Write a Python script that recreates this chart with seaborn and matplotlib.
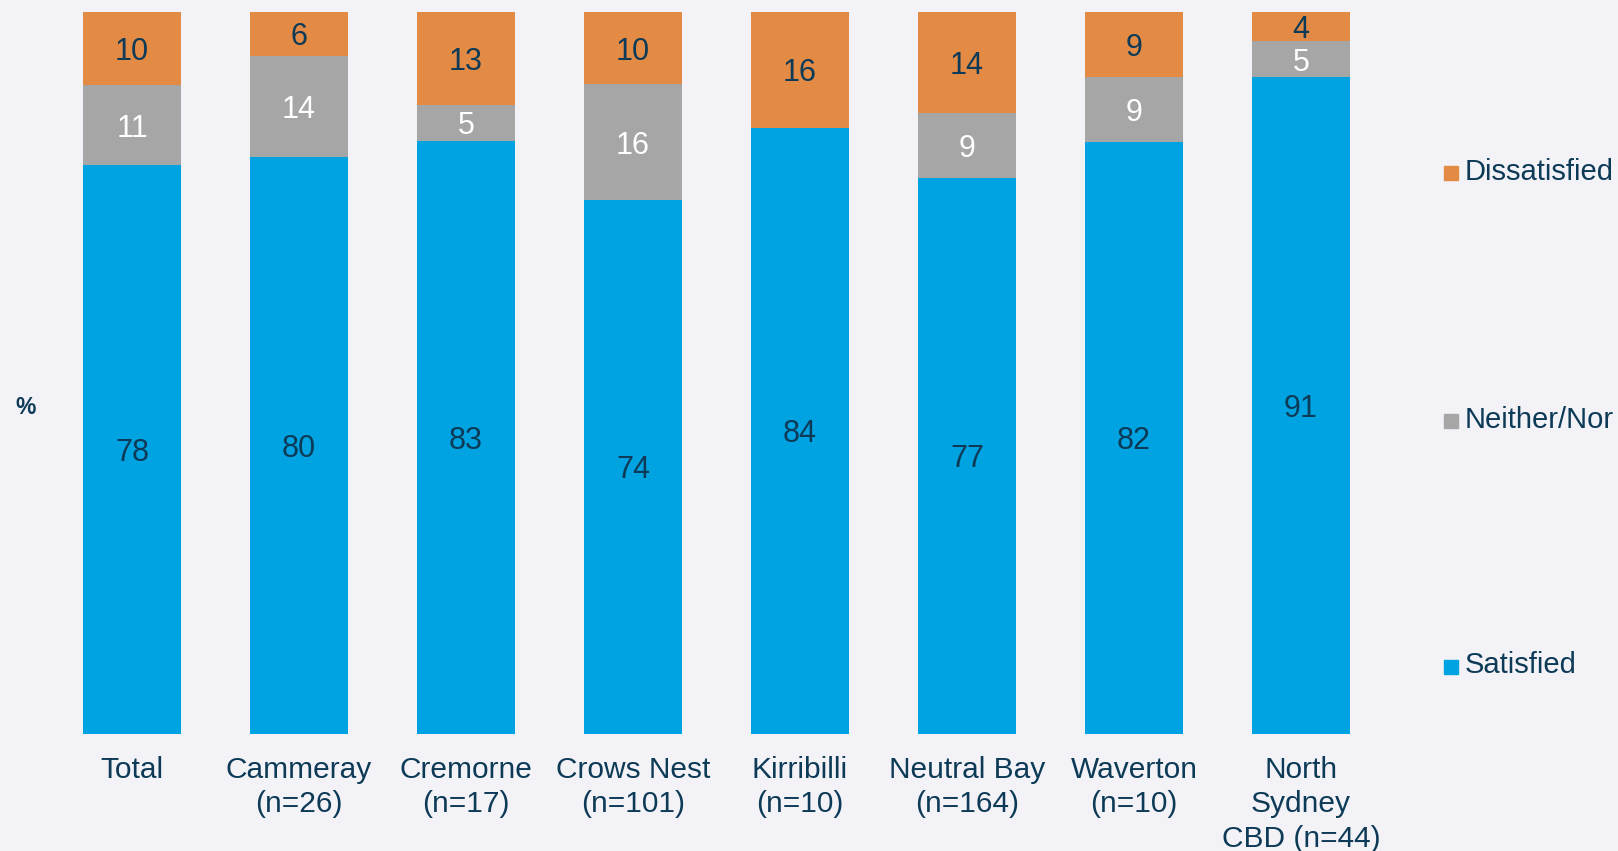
import matplotlib
matplotlib.use("Agg")
import matplotlib.pyplot as plt
import seaborn as sns
import numpy as np
import pandas as pd

# data
areas = ["Total", "Cammeray\n(n=26)", "Cremorne\n(n=17)", "Crows Nest\n(n=101)",
         "Kirribilli\n(n=10)", "Neutral Bay\n(n=164)", "Waverton\n(n=10)",
         "North\nSydney\nCBD (n=44)"]
satisfied = [78, 80, 83, 74, 84, 77, 82, 91]
neither = [11, 14, 5, 16, 0, 9, 9, 5]
dissatisfied = [10, 6, 13, 10, 16, 14, 9, 4]

C_SAT = "#00A3E2"
C_NEI = "#A6A6A6"
C_DIS = "#E38A45"
TXT = "#0D3A56"
BG = "#F3F3F7"

sns.set_theme(style="white")
plt.rcParams["font.family"] = ["Liberation Sans", "DejaVu Sans"]

# 100% stacked: each bar is scaled to its own total
sat = np.array(satisfied, float)
nei = np.array(neither, float)
dis = np.array(dissatisfied, float)
tot = sat + nei + dis
df = pd.DataFrame({
    "area": areas,
    "sat": sat / tot * 100,
    "sat_nei": (sat + nei) / tot * 100,
    "all": np.full(len(areas), 100.0),
})

fig = plt.figure(figsize=(16.18, 8.51), dpi=100, facecolor=BG)
ax = fig.add_axes([0.030, 0.138, 0.8257, 0.8476])
ax.set_facecolor(BG)

w = 0.59
sns.barplot(data=df, x="area", y="all", color=C_DIS, saturation=1, width=w, ax=ax, linewidth=0)
sns.barplot(data=df, x="area", y="sat_nei", color=C_NEI, saturation=1, width=w, ax=ax, linewidth=0)
sns.barplot(data=df, x="area", y="sat", color=C_SAT, saturation=1, width=w, ax=ax, linewidth=0)

fs = 22
for i in range(len(areas)):
    s, sn = df["sat"][i], df["sat_nei"][i]
    ax.text(i, s / 2, f"{satisfied[i]}", ha="center", va="center_baseline", fontsize=fs, color=TXT)
    if neither[i] > 0:
        ax.text(i, (s + sn) / 2, f"{neither[i]}", ha="center", va="center_baseline", fontsize=fs, color="white")
    ax.text(i, (sn + 100) / 2, f"{dissatisfied[i]}", ha="center", va="center_baseline", fontsize=fs, color=TXT)

ax.set_xlim(-0.5, len(areas) - 0.5)
ax.set_ylim(0, 100)
ax.set_xlabel("")
ax.set_ylabel("")
ax.set_yticks([])
ax.tick_params(axis="x", length=0, pad=16, labelsize=21.5, labelcolor=TXT)
for lbl in ax.get_xticklabels():
    lbl.set_linespacing(1.3)
    lbl.set_verticalalignment("top")
sns.despine(ax=ax, left=True, bottom=True)

fig.text(0.0095, 0.521, "%", fontsize=16.5, fontweight="bold", color=TXT, ha="left", va="center")

# legend entries spaced down the right side
leg = [("Dissatisfied", C_DIS, 0.798), ("Neither/Nor", C_NEI, 0.507), ("Satisfied", C_SAT, 0.218)]
for name, col, yy in leg:
    fig.patches.append(plt.Rectangle((0.8925, yy - 0.0095), 0.0087, 0.0165, color=col,
                                     transform=fig.transFigure, figure=fig))
    fig.text(0.9055, yy, name, fontsize=21, color=TXT, ha="left", va="center")

fig.savefig("out.png", dpi=100, facecolor=BG)
